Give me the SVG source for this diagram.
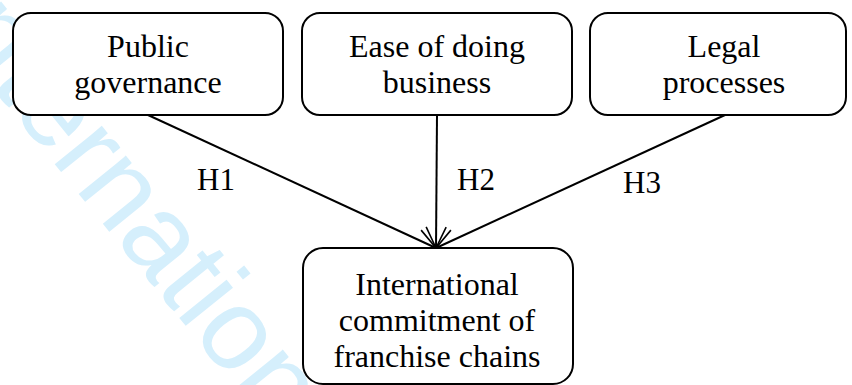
<svg xmlns="http://www.w3.org/2000/svg" width="852" height="385" viewBox="0 0 852 385">
  <style>
    .box { fill: #ffffff; stroke: #000000; stroke-width: 2; }
    .lbl { font-family: "Liberation Serif", "Times New Roman", serif; font-size: 32px; fill: #000000; text-anchor: middle; }
    .hyp { font-family: "Liberation Serif", "Times New Roman", serif; font-size: 31px; fill: #000000; }
    .link { stroke: #000000; stroke-width: 2; fill: none; marker-end: url(#openArrow); }
    .mark { font-family: "Liberation Sans", Arial, sans-serif; font-size: 115px; fill: #d5effc; }
  </style>
  <defs>
    <marker id="openArrow" markerUnits="userSpaceOnUse" markerWidth="30" markerHeight="30" refX="0" refY="0" orient="auto" overflow="visible">
      <path d="M-21,-10 L0,0 L-21,10" fill="none" stroke="#000000" stroke-width="1.6"/>
    </marker>
  </defs>

  <!-- background watermark -->
  <text class="mark" transform="translate(-71,9) rotate(51)">International</text>

  <!-- connectors -->
  <g id="connectors">
    <line class="link" x1="148" y1="115" x2="436" y2="248"/>
    <line class="link" x1="437" y1="115" x2="436" y2="248"/>
    <line class="link" x1="725" y1="115" x2="436" y2="248"/>
    <text class="hyp" x="197" y="190">H1</text>
    <text class="hyp" x="457" y="190">H2</text>
    <text class="hyp" x="623" y="193">H3</text>
  </g>

  <g id="public-governance">
    <rect class="box" x="13" y="13" width="270" height="102" rx="18"/>
    <text class="lbl" x="148" y="57">Public</text>
    <text class="lbl" x="148" y="93">governance</text>
  </g>

  <g id="ease-of-doing-business">
    <rect class="box" x="302" y="13" width="270" height="102" rx="18"/>
    <text class="lbl" x="437" y="57">Ease of doing</text>
    <text class="lbl" x="437" y="93">business</text>
  </g>

  <g id="legal-processes">
    <rect class="box" x="590" y="13" width="256" height="102" rx="18"/>
    <text class="lbl" x="724" y="57">Legal</text>
    <text class="lbl" x="724" y="93">processes</text>
  </g>

  <g id="international-commitment">
    <rect class="box" x="303" y="248" width="270" height="136" rx="20"/>
    <text class="lbl" x="437" y="295">International</text>
    <text class="lbl" x="437" y="331">commitment of</text>
    <text class="lbl" x="437" y="367">franchise chains</text>
  </g>
</svg>
